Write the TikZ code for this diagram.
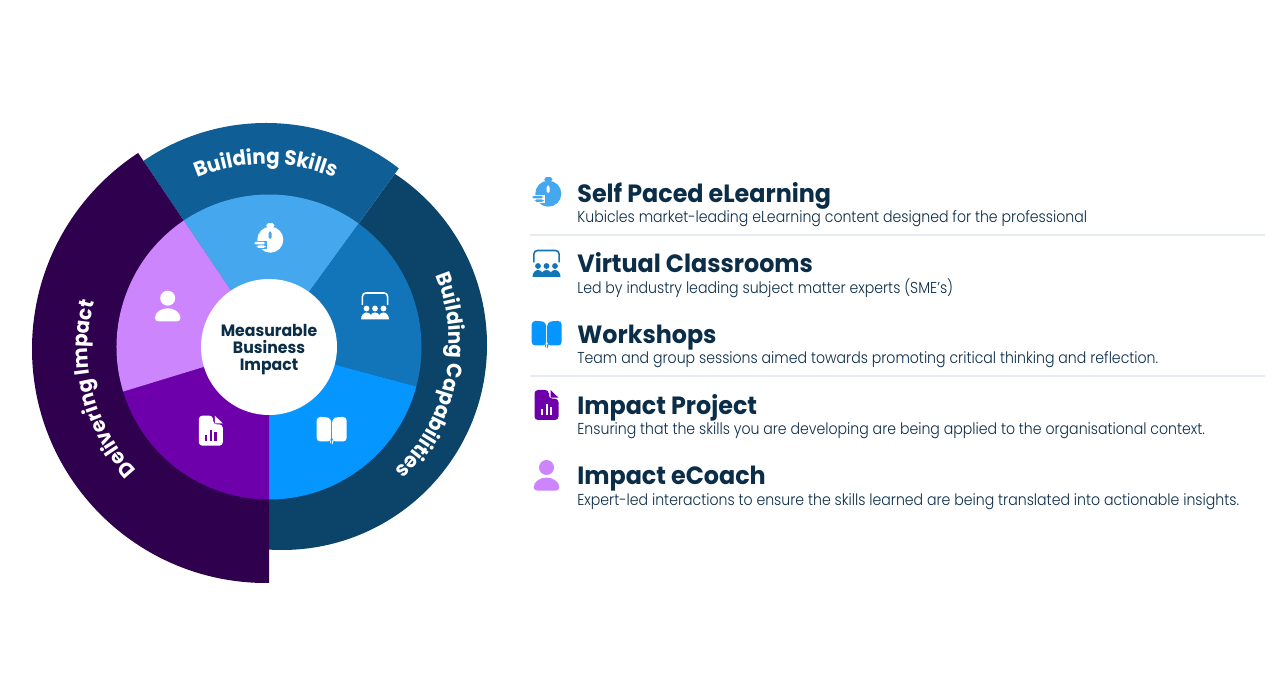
\documentclass[tikz,border=0pt]{standalone}
\usepackage{fontspec}
\newfontfamily\headfont[FakeStretch=0.955]{Poppins Bold}
\newfontfamily\descfont[FakeStretch=0.892]{Poppins Light}
\usetikzlibrary{calc,decorations.text}
\definecolor{inkblue}{HTML}{0B2D48}
\definecolor{skillring}{HTML}{0F5F96}
\definecolor{capring}{HTML}{0C4369}
\definecolor{impactring}{HTML}{2F004E}
\definecolor{watchblue}{HTML}{45A8EE}
\definecolor{classblue}{HTML}{1274B9}
\definecolor{bookblue}{HTML}{0696FF}
\definecolor{projectpurple}{HTML}{6E00AC}
\definecolor{coachpurple}{HTML}{CC85FD}
\definecolor{rule}{HTML}{E6ECF2}
\tikzset{
    kubicles diagram/.style = {x=0.02cm, y=0.02cm},
    hub/.style      = {inner sep=0pt, align=center, text=inkblue,
                       font=\headfont\fontsize{9.35}{9.7}\selectfont},
    head/.style     = {anchor=base west, inner sep=0pt, text=inkblue,
                       font=\headfont\fontsize{14.2}{16}\selectfont},
    desc/.style     = {anchor=base west, inner sep=0pt, text=inkblue,
                       font=\descfont\fontsize{9}{11}\selectfont},
    ringtext/.style = {decorate, decoration={text along path, text align=center,
                       text color=white, text={#1}}},
    pics/watch icon/.style 2 args = {code={
        \fill[#1] (0,0) circle (13);
        \fill[#1, rounded corners=1pt] (-4,12) rectangle (4,16.5);
        \fill[#2, rounded corners=1pt] (-1.7,0.5) rectangle (1.3,8.5);
        \fill[#2] (-18,-9) rectangle (-3.5,-1);
        \fill[#1, rounded corners=1pt] (-16.3,-4.6) rectangle (-5,-2.2);
        \fill[#1, rounded corners=1pt] (-13.7,-8.2) rectangle (-4.5,-5.8);
    }},
    pics/class icon/.style 2 args = {code={
        \draw[#1, line width=0.9pt, rounded corners=2pt]
            (-12.6,1) -- (-12.6,13) -- (12.6,13) -- (12.6,1);
        \foreach \dotx in {-8.5,0,8.5} {
            \fill[#1] (\dotx,-2.5) circle (2.9);
        }
        \fill[#1] (-14,-13.5) .. controls (-14,-9) and (-11,-6.5) .. (-8.5,-6.5)
            .. controls (-6.5,-6.5) and (-5,-7.5) .. (-4.2,-9)
            .. controls (-3.4,-7.5) and (-2,-6.5) .. (0,-6.5)
            .. controls (2,-6.5) and (3.4,-7.5) .. (4.2,-9)
            .. controls (5,-7.5) and (6.5,-6.5) .. (8.5,-6.5)
            .. controls (11,-6.5) and (14,-9) .. (14,-13.5) -- cycle;
    }},
    pics/book icon/.style 2 args = {code={
        \fill[#1, rounded corners=2pt] (-15,-11) -- (-15,13.5) -- (-6,13.5) -- (-0.5,12) -- (-0.5,-11) -- cycle;
        \fill[#1, rounded corners=2pt] (15,-11) -- (15,13.5) -- (6,13.5) -- (0.5,12) -- (0.5,-11) -- cycle;
        \fill[#1] (-8,-10) -- (-1.6,-10) -- (-1.6,-11.5) -- (-0.5,-14) -- (-0.5,-10) -- cycle;
        \fill[#1] (8,-10) -- (1.6,-10) -- (1.6,-11.5) -- (0.5,-14) -- (0.5,-10) -- cycle;
    }},
    pics/doc icon/.style 2 args = {code={
        \fill[#1, rounded corners=2pt] (-12,-15) -- (-12,15) -- (2.3,15) -- (2.3,6.3) -- (12,6.3) -- (12,-15) -- cycle;
        \fill[#1] (4,15) -- (12,7.3) -- (4,7.3) -- cycle;
        \fill[#2] (-6,-10.3) rectangle (-3.7,-4.3);
        \fill[#2] (-1,-10.3) rectangle (1.3,0.7);
        \fill[#2] (3.3,-10.3) rectangle (5.7,-1.7);
    }},
    pics/coach icon/.style = {code={
        \fill[#1] (0,7.8) circle (7.5);
        \fill[#1] (-12.8,-12) .. controls (-12.8,-6) and (-6,-2.3) .. (0,-2.3)
            .. controls (6,-2.3) and (12.8,-6) .. (12.8,-12)
            .. controls (12.8,-14.5) and (11,-15.3) .. (9,-15.3) -- (-9,-15.3)
            .. controls (-11,-15.3) and (-12.8,-14.5) .. (-12.8,-12) -- cycle;
    }}
}

\begin{document}
\begin{tikzpicture}[kubicles diagram]

\useasboundingbox[fill=white] (0,0) rectangle (1280,699);
\coordinate (center) at (269,352);

% outer bands
\begin{scope}
    \clip (center) -- ++(54:500) -- ++(-90:500) -- ($(center)+(270:500)$) -- cycle;
    \fill[capring] (282,354) circle (205);
\end{scope}
\begin{scope}
    \clip (center) -- ($(center)+(54:500)$) -- ($(center)+(124:500)$) -- cycle;
    \fill[skillring] (266,359) circle (217);
\end{scope}
\begin{scope}
    \clip (center) -- ($(center)+(124:500)$) -- ($(center)+(197:600)$) -- ($(center)+(270:500)$) -- cycle;
    \fill[impactring] (266,350) circle (234);
\end{scope}

% inner wedges
\foreach \wedgecolor/\from/\to in {watchblue/54/124, classblue/-15/54, bookblue/-90/-15,
                                   projectpurple/197/270, coachpurple/124/197} {
    \fill[\wedgecolor] (center) -- ($(center)+(\from:152.5)$)
        arc[start angle=\from, end angle=\to, radius=152.5] -- cycle;
}

\fill[white] (center) circle (68);
\node[hub] (hubtext) at ($(center)+(0,-3)$) {Measurable\\Business\\Impact};

% band labels
\path[ringtext={|\headfont\fontsize{11.8}{14}\selectfont|Building Skills}]
    (266,359) ++(125:176) arc[start angle=125, end angle=55, radius=176];
\path[ringtext={|\headfont\fontsize{11.8}{14}\selectfont|Building Capabilities}]
    (273,356) ++(37:176) arc[start angle=37, end angle=-61, radius=176];
\path[ringtext={|\headfont\fontsize{11.8}{14}\selectfont|Delivering Impact}]
    (264,350) ++(239:176) arc[start angle=239, end angle=149, radius=176];

% wheel icons
\pic at (270.3,459.3) {watch icon={white}{watchblue}};
\pic at (375,393) {class icon={white}{classblue}};
\pic at (331.7,268.5) {book icon={white}{bookblue}};
\pic at (210.8,268.3) {doc icon={white}{projectpurple}};
\pic at (167.7,393) {coach icon=white};

% list icons
\pic at (548.3,505.3) {watch icon={watchblue}{white}};
\pic at (546.5,435.5) {class icon={classblue}{white}};
\pic at (546.7,364.5) {book icon={bookblue}{white}};
\pic at (546.5,294) {doc icon={projectpurple}{white}};
\pic at (546.5,223.7) {coach icon=coachpurple};

% list text
\foreach \item/\basey/\headtext/\desctext in {
    elearning/496.5/Self Paced eLearning/Kubicles market-leading eLearning content designed for the professional,
    classrooms/426/Virtual Classrooms/Led by industry leading subject matter experts (SME’s),
    workshops/355.5/Workshops/Team and group sessions aimed towards promoting critical thinking and reflection.,
    project/284.5/Impact Project/Ensuring that the skills you are developing are being applied to the organisational context.,
    ecoach/214/Impact eCoach/Expert-led interactions to ensure the skills learned are being translated into actionable insights.} {
    \node[head] (\item head) at (577,\basey) {\headtext};
    \node[desc] (\item desc) at ($(\item head.base west)+(0,-20.5)$) {\desctext};
}

\coordinate (ruleastart) at (530,464);
\coordinate (ruleaend) at (1265,464);
\coordinate (rulebstart) at (530,323);
\coordinate (rulebend) at (1265,323);
\draw[rule, line width=0.6pt] (ruleastart) -- (ruleaend);
\draw[rule, line width=0.6pt] (rulebstart) -- (rulebend);

\end{tikzpicture}
\end{document}
